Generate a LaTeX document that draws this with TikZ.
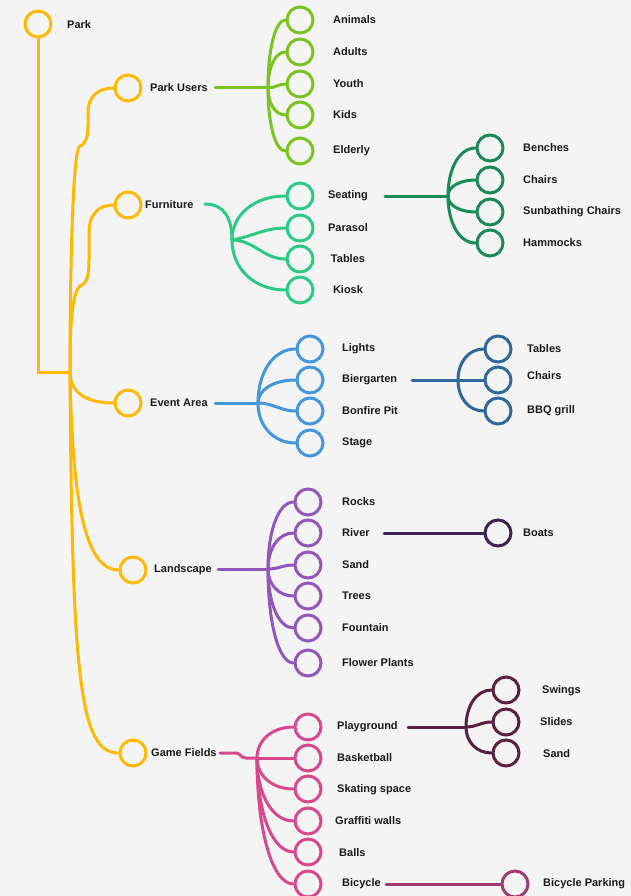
\documentclass[tikz,border=0pt]{standalone}
\usepackage{fontspec}
\usetikzlibrary{calc}
\setmainfont{Liberation Sans}
\definecolor{bg}{HTML}{F4F4F4}
\definecolor{txt}{HTML}{1A1A1A}
\definecolor{orng}{HTML}{FFB900}
\definecolor{grn}{HTML}{7AC41F}
\definecolor{tealg}{HTML}{2DCA86}
\definecolor{dgrn}{HTML}{1A8A57}
\definecolor{blu}{HTML}{4496DE}
\definecolor{dblu}{HTML}{30679C}
\definecolor{purp}{HTML}{9256BD}
\definecolor{dpur}{HTML}{3D2150}
\definecolor{pnk}{HTML}{D9488C}
\definecolor{maro}{HTML}{5B1F42}
\definecolor{bpk}{HTML}{A53B73}
% branch: colour, hub, target
\newcommand\brnch[3]{\draw[conn=#1] (#2) .. controls ($(#2)!0.58!(#2 |- #3)$) and ($(#3)!0.58!(#2 |- #3)$) .. (#3);}
\begin{document}
\begin{tikzpicture}[x=1pt,y=-1pt,
  circ/.style={circle, draw=#1, line width=3pt, minimum size=26pt, inner sep=0pt},
  lab/.style={anchor=west, inner sep=0pt, font=\fontsize{11}{13}\selectfont\bfseries, text=txt},
  labc/.style={lab, anchor=center},
  conn/.style={draw=#1, line width=3pt, line cap=round},
]
\fill[bg] (0,0) rectangle (631,896);
\useasboundingbox (0,0) rectangle (631,896);

% ---------- root ----------
\node[circ=orng] (park) at (38,24) {};
\node[lab] (parkL) at (67,25) {Park};
\coordinate (corner) at (38,372);
\coordinate (J) at (70,372);
\draw[conn=orng] (park.south) -- (corner) -- (J);

\node[circ=orng] (pu) at (128,88) {};  \node[lab] (puL) at (150,88) {Park Users};
\node[circ=orng] (fu) at (128,205) {}; \node[lab] (fuL) at (145,205) {Furniture};
\node[circ=orng] (ea) at (128,403) {}; \node[lab] (eaL) at (150,403) {Event Area};
\node[circ=orng] (ls) at (133,570) {}; \node[lab] (lsL) at (154,570) {Landscape};
\node[circ=orng] (gf) at (133,753) {}; \node[lab] (gfL) at (151,753) {Game Fields};

\draw[conn=orng] (J) .. controls (70,290) and (72,160) .. (79,147)
  .. controls (86,143) and (88,138) .. (88,125) -- (88,112)
  .. controls (88,95) and (100,88) .. (pu.west);
\draw[conn=orng] (J) .. controls (70,330) and (71,295) .. (80,286)
  .. controls (87,283) and (89,276) .. (89,260) -- (89,232)
  .. controls (89,213) and (100,205) .. (fu.west);
\draw[conn=orng] (J) .. controls (70,395) and (90,403) .. (ea.west);
\draw[conn=orng] (J) .. controls (72,500) and (85,570) .. (ls.west);
\draw[conn=orng] (J) .. controls (72,680) and (80,753) .. (gf.west);

% ---------- Park Users ----------
\coordinate (puS) at (215,88); \coordinate (puH) at (268,88);
\draw[conn=grn] (puS) -- (puH);
\foreach \n/\y/\t in {1/20/Animals,2/52/Adults,3/84/Youth,4/115/Kids,5/151/Elderly}{
  \node[circ=grn] (pu\n) at (300,\y) {};
  \node[lab] (pul\n) at (333,\y) {\t};
}
\foreach \n in {1,2,4,5}{ \brnch{grn}{puH}{pu\n.west} }
\draw[conn=grn] (puH) to[out=0,in=180] (pu3.west);

% ---------- Furniture ----------
\coordinate (fuS) at (205,204); \coordinate (fuH) at (232,240);
\draw[conn=tealg] (fuS) .. controls (224,204) and (232,218) .. (fuH);
\foreach \n/\y/\t in {1/196/Seating,2/228/Parasol,3/259/Tables,4/290/Kiosk}{
  \node[circ=tealg] (fu\n) at (300,\y) {};
  \node[labc] (ful\n) at (348,\y) {\t};
}
\brnch{tealg}{fuH}{fu1.west}
\draw[conn=tealg] (fuH) to[out=10,in=180] (fu2.west);
\draw[conn=tealg] (fuH) to[out=0,in=180] (fu3.west);
\brnch{tealg}{fuH}{fu4.west}

% ---------- Seating ----------
\coordinate (seS) at (385,196); \coordinate (seH) at (448,196);
\draw[conn=dgrn] (seS) -- (seH);
\foreach \n/\y/\t in {1/148/Benches,2/180/Chairs,3/212/Sunbathing Chairs,4/243/Hammocks}{
  \node[circ=dgrn] (se\n) at (490,\y) {};
  \node[lab] (sel\n) at (523,\y) {\t};
  \brnch{dgrn}{seH}{se\n.west}
}

% ---------- Event Area ----------
\coordinate (eaS) at (215,403); \coordinate (eaH) at (258,403);
\draw[conn=blu] (eaS) -- (eaH);
\foreach \n/\y/\t in {1/349/Lights,2/380/Biergarten,3/411/Bonfire Pit,4/443/Stage}{
  \node[circ=blu] (ea\n) at (310,\y) {};
  \node[lab] (eal\n) at (342,\y) {\t};
}
\foreach \n in {1,2,4}{ \brnch{blu}{eaH}{ea\n.west} }
\draw[conn=blu] (eaH) to[out=0,in=180] (ea3.west);

% ---------- Biergarten ----------
\coordinate (bgS) at (412,380); \coordinate (bgH) at (458,380);
\draw[conn=dblu] (bgS) -- (bgH);
\foreach \n/\y in {1/349,2/380,3/411}{
  \node[circ=dblu] (bg\n) at (498,\y) {};
}
\node[lab] (bgl1) at (527,349) {Tables};
\node[lab] (bgl2) at (527,376) {Chairs};
\node[lab] (bgl3) at (527,411) {BBQ grill};
\brnch{dblu}{bgH}{bg1.west}
\draw[conn=dblu] (bgH) -- (bg2.west);
\brnch{dblu}{bgH}{bg3.west}

% ---------- Landscape ----------
\coordinate (lsS) at (218,569); \coordinate (lsH) at (268,569);
\draw[conn=purp] (lsS) -- (lsH);
\foreach \n/\y/\t in {1/502/Rocks,2/533/River,3/565/Sand,4/596/Trees,5/628/Fountain,6/663/Flower Plants}{
  \node[circ=purp] (ls\n) at (308,\y) {};
  \node[lab] (lsl\n) at (342,\y) {\t};
}
\foreach \n in {1,2,4,5,6}{ \brnch{purp}{lsH}{ls\n.west} }
\draw[conn=purp] (lsH) to[out=0,in=180] (ls3.west);

% River -> Boats
\coordinate (rvS) at (384,533);
\node[circ=dpur] (boats) at (498,533) {};
\node[lab] (boatsL) at (523,533) {Boats};
\draw[conn=dpur] (rvS) -- (boats.west);

% ---------- Game Fields ----------
\coordinate (gfS) at (220,753); \coordinate (gfH) at (257,758);
\draw[conn=pnk] (gfS) -- (236,753) .. controls (241,753) and (240,758) .. (246,758) -- (gfH);
\foreach \n/\y in {1/727,2/758,3/789,4/821,5/852,6/884}{
  \node[circ=pnk] (gf\n) at (308,\y) {};
}
\node[lab] (gfl1) at (337,727) {Playground};
\node[lab] (gfl2) at (337,758) {Basketball};
\node[lab] (gfl3) at (337,790) {Skating space};
\node[lab] (gfl4) at (335,821) {Graffiti walls};
\node[lab] (gfl5) at (339,853) {Balls};
\node[lab] (gfl6) at (342,884) {Bicycle};
\foreach \n in {1,3,4,5,6}{ \brnch{pnk}{gfH}{gf\n.west} }
\draw[conn=pnk] (gfH) -- (gf2.west);

% ---------- Playground ----------
\coordinate (pgS) at (408,727); \coordinate (pgH) at (466,727);
\draw[conn=maro] (pgS) -- (pgH);
\foreach \n/\y in {1/690,2/722,3/753}{
  \node[circ=maro] (pg\n) at (506,\y) {};
}
\node[lab] (pgl1) at (542,691) {Swings};
\node[lab] (pgl2) at (540,722) {Slides};
\node[lab] (pgl3) at (543,754) {Sand};
\brnch{maro}{pgH}{pg1.west}
\draw[conn=maro] (pgH) to[out=0,in=180] (pg2.west);
\brnch{maro}{pgH}{pg3.west}

% Bicycle -> Bicycle Parking
\coordinate (bcS) at (386,884);
\node[circ=bpk] (bpark) at (515,884) {};
\node[lab] (bparkL) at (543,884) {Bicycle Parking};
\draw[conn=bpk] (bcS) -- (bpark.west);
\end{tikzpicture}
\end{document}
